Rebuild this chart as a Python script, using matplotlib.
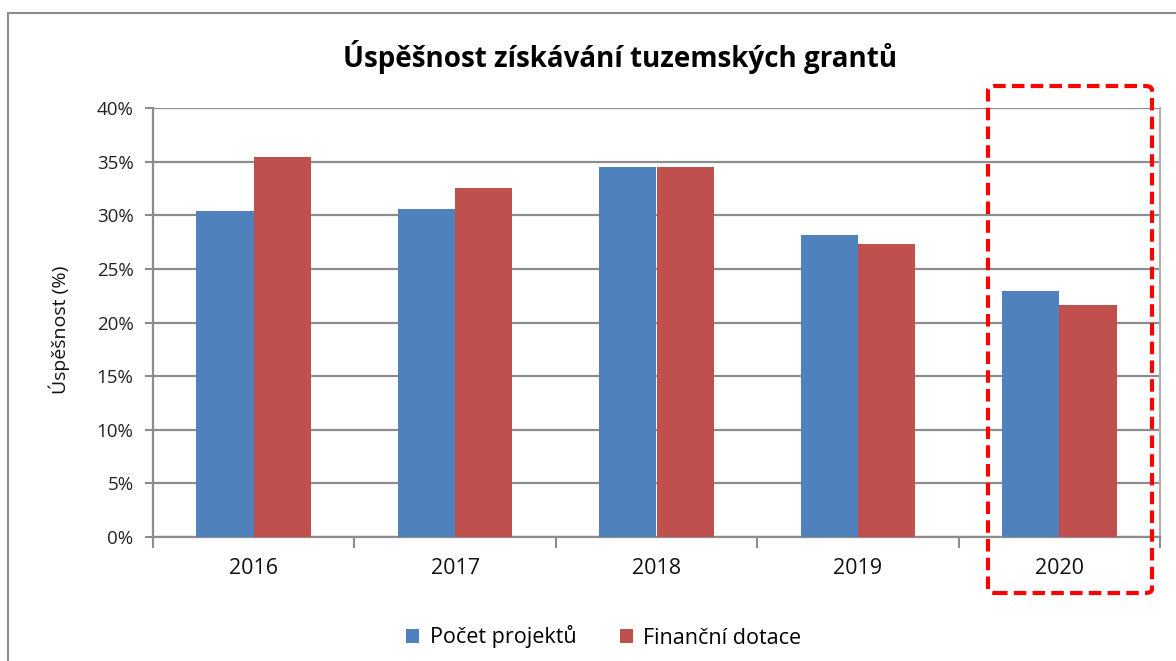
import matplotlib.pyplot as plt
import numpy as np
from matplotlib.patches import FancyBboxPatch, Rectangle
from matplotlib.ticker import FuncFormatter, MultipleLocator

plt.rcParams['font.family'] = ['Open Sans', 'DejaVu Sans']

years = ['2016', '2017', '2018', '2019', '2020']
pocet_projektu = [30.4, 30.6, 34.5, 28.2, 22.9]
financni_dotace = [35.4, 32.5, 34.5, 27.3, 21.6]

W, H = 1176, 661
fig = plt.figure(figsize=(W / 100, H / 100), dpi=100)
ax = fig.add_axes([153 / W, 1 - 537 / H, 1007 / W, 429 / H])

x = np.arange(len(years))
bw = 0.285
ax.bar(x - bw / 2, pocet_projektu, bw, color='#4F81BD', label='Počet projektů', zorder=3)
ax.bar(x + bw / 2, financni_dotace, bw, color='#C0504D', label='Finanční dotace', zorder=3)

ax.set_xlim(-0.5, len(years) - 0.5)
ax.set_ylim(0, 40)
ax.yaxis.set_major_locator(MultipleLocator(5))
ax.yaxis.set_major_formatter(FuncFormatter(lambda v, p: f'{int(v)}%'))
ax.grid(axis='y', color='#8c8c8c', linewidth=1.6, zorder=0)
ax.set_xticks(x)
ax.set_xticklabels(years, fontsize=15.5, color='#111111')
ax.set_xticks(np.arange(-0.5, len(years)), minor=True)
ax.tick_params(axis='x', which='major', length=0, pad=15)
ax.tick_params(axis='x', which='minor', length=8, color='#8c8c8c', width=1.5)
ax.tick_params(axis='y', length=6, color='#8c8c8c', width=1.5, labelsize=13.5,
               labelcolor='#222222', pad=8)
for s in ['left', 'bottom', 'right']:
    ax.spines[s].set_color('#8c8c8c')
    ax.spines[s].set_linewidth(1.6)
ax.spines['top'].set_visible(False)
ax.spines['right'].set_color('#b0b0b0')

fig.text(59 / W, 1 - 330 / H, 'Úspěšnost (%)', rotation=90, ha='center', va='center',
         fontsize=14, color='#111111')

fig.text(620 / W, 1 - 57 / H, 'Úspěšnost získávání tuzemských grantů',
         ha='center', va='center', fontsize=20, fontweight='bold')

leg = fig.legend(loc='center', bbox_to_anchor=(604 / W, 1 - 637 / H), ncol=2,
                 frameon=False, fontsize=15.5, handlelength=0.6, handleheight=0.6,
                 columnspacing=2.0, handletextpad=0.5)

# outer chart border
fig.patches.append(Rectangle((8 / W, -0.1), 1.2, (1 - 13 / H) + 0.1, transform=fig.transFigure,
                             fill=False, edgecolor='#8c8c8c', linewidth=1.5))

# red dashed highlight box
fig.patches.append(FancyBboxPatch((988 / W, 1 - 593 / H), 164 / W, 507 / H,
                                  boxstyle='round,pad=0,rounding_size=0.006',
                                  transform=fig.transFigure, fill=False,
                                  edgecolor='#ff0000', linewidth=3, linestyle=(0, (3, 1.5)),
                                  zorder=10))

fig.savefig('out.png', dpi=100)
